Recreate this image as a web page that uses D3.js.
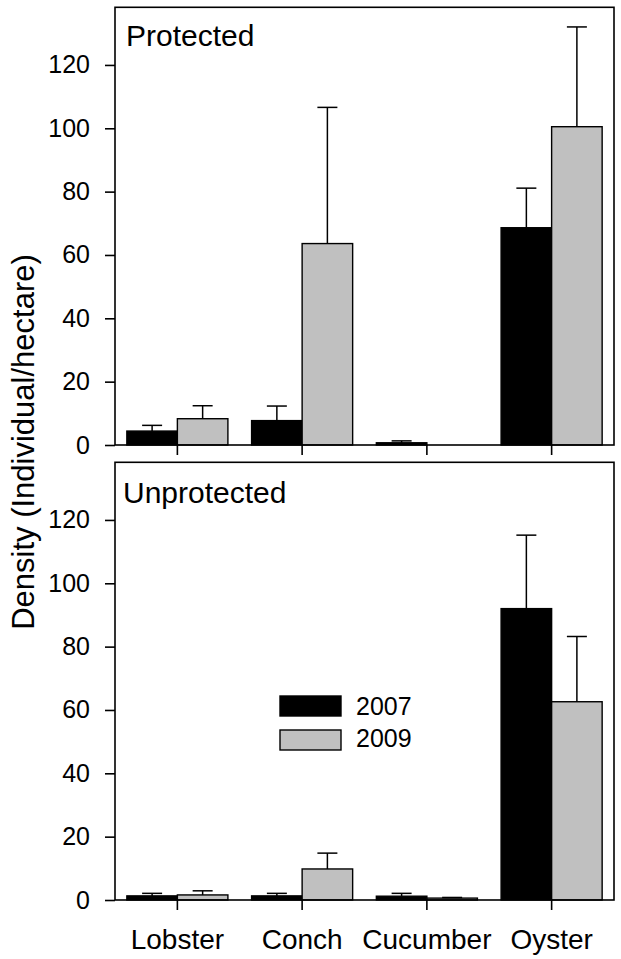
<!DOCTYPE html>
<html>
<head>
<meta charset="utf-8">
<script src="https://cdn.jsdelivr.net/npm/d3@7"></script>
<style>
  body { margin: 0; background: #fff; }
  svg { display: block; font-family: 'Liberation Sans', Arial, sans-serif; }
</style>
</head>
<body>
<svg id="chart" width="621" height="959"></svg>
<script>
// Density data (mean and upper SE)
const categories = ['Lobster', 'Conch', 'Cucumber', 'Oyster'];
const years = ['2007', '2009'];
const yTicks = [0, 20, 40, 60, 80, 100, 120];

const protected2007 = [4.4, 7.7, 0.7, 68.6];
const protected2009 = [8.3, 63.6, 0, 100.5];
const protectedErr2007 = [1.8, 4.6, 0.6, 12.5];
const protectedErr2009 = [4.1, 43.0, 0, 31.5];

const unprotected2007 = [1.3, 1.3, 1.2, 92.0];
const unprotected2009 = [1.6, 9.8, 0.6, 62.6];
const unprotectedErr2007 = [0.8, 0.8, 0.9, 23.2];
const unprotectedErr2009 = [1.3, 5.0, 0.2, 20.6];

const colors = { '2007': '#000000', '2009': '#c0c0c0' };

const svg = d3.select('#chart');

let margin = { left: 115, right: 7 };
let plotRight = 621 - margin.right;

let panels = [
  { label: 'Protected', top: 7.3, bottom: 445, labelX: 126, labelY: 46,
    means: [protected2007, protected2009], errs: [protectedErr2007, protectedErr2009], showNames: false },
  { label: 'Unprotected', top: 462.3, bottom: 900, labelX: 123, labelY: 503,
    means: [unprotected2007, unprotected2009], errs: [unprotectedErr2007, unprotectedErr2009], showNames: true },
];

let xScale = d3.scaleBand()
  .domain(categories)
  .range([margin.left, plotRight])
  .paddingInner(0.19)
  .paddingOuter(0.095);

let xInner = d3.scaleBand()
  .domain(years)
  .range([0, xScale.bandwidth()]);

panels.forEach(function(p) {
  let yScale = d3.scaleLinear()
    .domain([0, 138.2])
    .range([p.bottom, p.top]);

  let g = svg.append('g');

  // rows of bars: one record per category/year
  let rows = [];
  categories.forEach(function(c, i) {
    years.forEach(function(yr, j) {
      rows.push({ cat: c, year: yr, mean: p.means[j][i], err: p.errs[j][i] });
    });
  });

  g.selectAll('rect.bar')
    .data(rows)
    .enter().append('rect')
    .attr('class', 'bar')
    .attr('x', (d) => xScale(d.cat) + xInner(d.year))
    .attr('width', xInner.bandwidth())
    .attr('y', (d) => yScale(d.mean))
    .attr('height', (d) => yScale(0) - yScale(d.mean))
    .attr('fill', (d) => colors[d.year])
    .attr('stroke', '#000')
    .attr('stroke-width', 1.4);

  // error bars (upper only)
  let eb = g.selectAll('g.err')
    .data(rows.filter((d) => d.err > 0))
    .enter().append('g')
    .attr('class', 'err')
    .attr('stroke', '#000')
    .attr('stroke-width', 1.5);
  eb.append('line')
    .attr('x1', (d) => xScale(d.cat) + xInner(d.year) + xInner.bandwidth() / 2)
    .attr('x2', (d) => xScale(d.cat) + xInner(d.year) + xInner.bandwidth() / 2)
    .attr('y1', (d) => yScale(d.mean))
    .attr('y2', (d) => yScale(d.mean + d.err));
  eb.append('line')
    .attr('x1', (d) => xScale(d.cat) + xInner(d.year) + xInner.bandwidth() / 2 - 10)
    .attr('x2', (d) => xScale(d.cat) + xInner(d.year) + xInner.bandwidth() / 2 + 10)
    .attr('y1', (d) => yScale(d.mean + d.err))
    .attr('y2', (d) => yScale(d.mean + d.err));

  // frame
  g.append('rect')
    .attr('x', margin.left)
    .attr('y', p.top)
    .attr('width', plotRight - margin.left)
    .attr('height', p.bottom - p.top)
    .attr('fill', 'none')
    .attr('stroke', '#000')
    .attr('stroke-width', 1.6);

  // y axis
  let yAxis = d3.axisLeft(yScale)
    .tickValues(yTicks)
    .tickSize(10)
    .tickPadding(15);
  let ya = g.append('g')
    .attr('transform', 'translate(' + margin.left + ',0)')
    .call(yAxis);
  ya.select('.domain').remove();
  ya.selectAll('line').attr('stroke-width', 1.6);
  ya.selectAll('text').attr('font-size', 25).attr('fill', '#000')
    .attr('font-family', "'Liberation Sans', Arial, sans-serif");

  // x axis
  let xAxis = d3.axisBottom(xScale)
    .tickSize(10)
    .tickSizeOuter(0)
    .tickFormat(p.showNames ? (d) => d : () => '');
  let xa = g.append('g')
    .attr('transform', 'translate(0,' + p.bottom + ')')
    .call(xAxis);
  xa.select('.domain').remove();
  xa.selectAll('line').attr('stroke-width', 1.6);
  xa.selectAll('text')
    .attr('font-size', 28)
    .attr('fill', '#000')
    .attr('font-family', "'Liberation Sans', Arial, sans-serif")
    .attr('dy', null)
    .attr('y', 49);

  // panel label
  g.append('text')
    .attr('x', p.labelX)
    .attr('y', p.labelY)
    .attr('font-size', 30)
    .text(p.label);
});

// legend inside bottom panel
let legend = svg.append('g').attr('transform', 'translate(280,696)');
years.forEach(function(yr, i) {
  legend.append('rect')
    .attr('x', 0)
    .attr('y', i * 34)
    .attr('width', 61)
    .attr('height', 20)
    .attr('fill', colors[yr])
    .attr('stroke', '#000')
    .attr('stroke-width', 1.4);
  legend.append('text')
    .attr('x', 76)
    .attr('y', i * 32 + 19)
    .attr('font-size', 25)
    .text(yr);
});

// y axis title
svg.append('text')
  .attr('transform', 'rotate(-90)')
  .attr('x', -442)
  .attr('y', 34)
  .attr('text-anchor', 'middle')
  .attr('font-size', 31)
  .text('Density (Individual/hectare)');
</script>
</body>
</html>
